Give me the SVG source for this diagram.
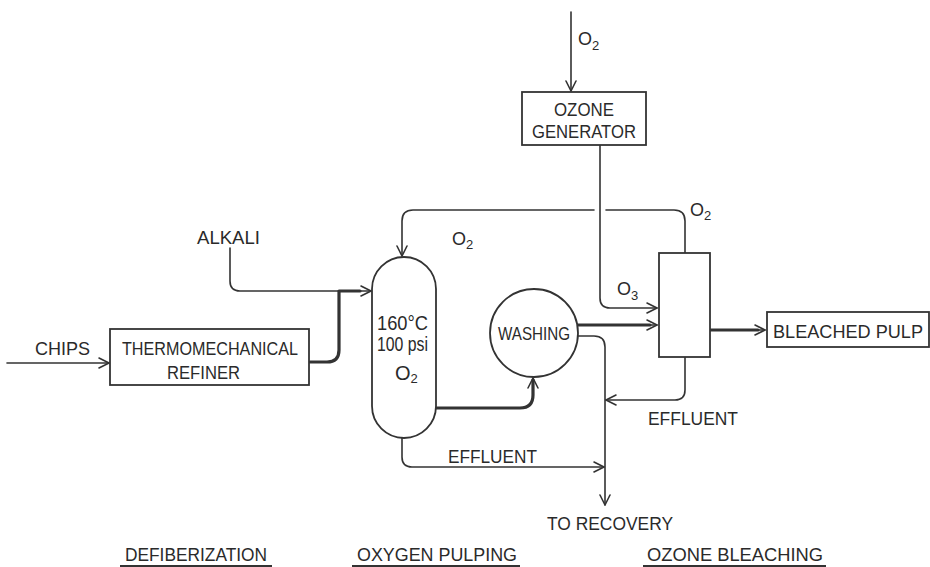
<svg xmlns="http://www.w3.org/2000/svg" width="930" height="567" viewBox="0 0 930 567">
<style>
  .ln{fill:none;stroke:#333;stroke-width:1.6;stroke-linecap:round;stroke-linejoin:round}
  .thk{fill:none;stroke:#333;stroke-width:3.2;stroke-linecap:round;stroke-linejoin:round}
  .box{fill:#fff;stroke:#333;stroke-width:1.8}
  text{font-family:"Liberation Sans",Arial,sans-serif;font-size:18px;fill:#2a2a2a}
  .big{font-size:20px}
  .sub{font-size:13px}
  .ul{stroke:#333;stroke-width:1.8}
</style>
<defs>
  <marker id="ah" viewBox="0 0 12 12" refX="11" refY="6" markerWidth="12" markerHeight="12" markerUnits="userSpaceOnUse" orient="auto">
    <path d="M1,1 L11,6 L1,11" fill="none" stroke="#333" stroke-width="1.6" stroke-linecap="round" stroke-linejoin="round"/>
  </marker>
</defs>
<rect width="930" height="567" fill="#fff"/>

<g id="connectors">
  <path class="ln" d="M571,12 V91" marker-end="url(#ah)"/>
  <path class="ln" d="M600,145 V298 Q600,308 610,308 H657" marker-end="url(#ah)"/>
  <path class="ln" d="M685,253 V221 Q685,210 674,210 H606 M594,210 H413 Q402,210 402,221 V256" marker-end="url(#ah)"/>
  <path class="ln" d="M230,248 V281 Q230,291 240,291 H371" marker-end="url(#ah)"/>
  <path class="thk" d="M310,362 H327 Q339,362 339,350 V291 H360"/>
  <path class="ln" d="M7,363 H109" marker-end="url(#ah)"/>
  <path class="thk" d="M436,408 H520 Q533,408 533,395 V380"/>
  <path class="ln" d="M533,390 V378" marker-end="url(#ah)"/>
  <path class="thk" d="M578,325 H650"/>
  <path class="ln" d="M640,325 H657" marker-end="url(#ah)"/>
  <path class="ln" d="M577,336 H594 Q605,336 605,347 V505" marker-end="url(#ah)"/>
  <path class="ln" d="M685,357 V390 Q685,400 675,400 H606" marker-end="url(#ah)"/>
  <path class="ln" d="M402,438 V457 Q402,467 412,467 H604" marker-end="url(#ah)"/>
  <path class="thk" d="M710,330 H758"/>
  <path class="ln" d="M748,330 H765" marker-end="url(#ah)"/>
</g>

<g id="ozone-generator">
  <rect class="box" x="522" y="92" width="124" height="53"/>
  <text x="584" y="116" text-anchor="middle" textLength="60" lengthAdjust="spacingAndGlyphs">OZONE</text>
  <text x="584" y="138" text-anchor="middle" textLength="104" lengthAdjust="spacingAndGlyphs">GENERATOR</text>
</g>

<g id="refiner">
  <rect class="box" x="110" y="329" width="199" height="56"/>
  <text x="122" y="355" textLength="176" lengthAdjust="spacingAndGlyphs">THERMOMECHANICAL</text>
  <text x="167" y="379" textLength="73" lengthAdjust="spacingAndGlyphs">REFINER</text>
</g>

<g id="vessel">
  <rect class="box" x="372" y="257" width="64" height="181" rx="32" ry="32"/>
  <text class="big" x="377" y="330" textLength="51" lengthAdjust="spacingAndGlyphs">160°C</text>
  <text class="big" x="377" y="351" textLength="51" lengthAdjust="spacingAndGlyphs">100 psi</text>
  <text class="big" x="395" y="380">O<tspan class="sub" dy="3">2</tspan></text>
</g>

<g id="washing">
  <circle class="box" cx="534" cy="333" r="44"/>
  <text x="534" y="340" text-anchor="middle" textLength="72" lengthAdjust="spacingAndGlyphs">WASHING</text>
</g>

<g id="ozone-reactor">
  <rect class="box" x="659" y="253" width="51" height="104"/>
</g>

<g id="bleached-pulp">
  <rect class="box" x="767" y="312" width="162" height="35"/>
  <text x="773" y="338" textLength="150" lengthAdjust="spacingAndGlyphs">BLEACHED PULP</text>
</g>

<g id="labels">
  <text x="578" y="45">O<tspan class="sub" dy="5">2</tspan></text>
  <text x="690" y="216">O<tspan class="sub" dy="4">2</tspan></text>
  <text x="452" y="245">O<tspan class="sub" dy="4">2</tspan></text>
  <text x="617" y="295">O<tspan class="sub" dy="5">3</tspan></text>
  <text x="197" y="244" textLength="63" lengthAdjust="spacingAndGlyphs">ALKALI</text>
  <text x="35" y="355" textLength="55" lengthAdjust="spacingAndGlyphs">CHIPS</text>
  <text x="448" y="463" textLength="89" lengthAdjust="spacingAndGlyphs">EFFLUENT</text>
  <text x="648" y="425" textLength="90" lengthAdjust="spacingAndGlyphs">EFFLUENT</text>
  <text x="547" y="530" textLength="126" lengthAdjust="spacingAndGlyphs">TO RECOVERY</text>
  <text x="125" y="561" textLength="142" lengthAdjust="spacingAndGlyphs">DEFIBERIZATION</text>
  <line class="ul" x1="120" y1="566" x2="272" y2="566"/>
  <text x="357" y="561" textLength="160" lengthAdjust="spacingAndGlyphs">OXYGEN  PULPING</text>
  <line class="ul" x1="352" y1="566" x2="520" y2="566"/>
  <text x="647" y="561" textLength="176" lengthAdjust="spacingAndGlyphs">OZONE  BLEACHING</text>
  <line class="ul" x1="643" y1="566" x2="826" y2="566"/>
</g>
</svg>
